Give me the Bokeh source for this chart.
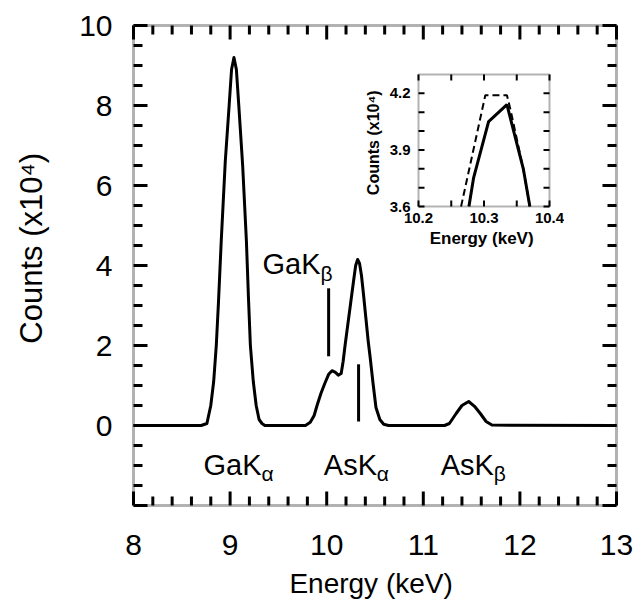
from bokeh.plotting import figure
from bokeh.layouts import column
from bokeh.models import Range1d, FixedTicker, BoxAnnotation
from bokeh.core.properties import value
from bokeh.embed import file_html
from bokeh.resources import INLINE

# ---- main spectrum ----
energy = [8.00, 8.70, 8.76, 8.80, 8.83, 8.857, 8.88, 8.908, 8.95, 8.99, 9.015, 9.04,
          9.065, 9.09, 9.13, 9.169, 9.19, 9.21, 9.24, 9.27, 9.30, 9.33, 9.36,
          9.78, 9.83, 9.87, 9.90, 9.94, 9.98, 10.02, 10.055, 10.09, 10.12, 10.15,
          10.17, 10.19, 10.22, 10.25, 10.28, 10.30, 10.32, 10.34, 10.36, 10.38,
          10.405, 10.43, 10.45, 10.48, 10.51, 10.55, 10.59, 10.64,
          11.22, 11.27, 11.34, 11.40, 11.47, 11.53, 11.59, 11.65, 11.71, 13.00]
counts = [0, 0, 0.05, 0.5, 1.1, 2.0, 3.1, 4.6, 6.6, 8.0, 8.9, 9.2,
          8.9, 8.0, 6.5, 4.6, 3.2, 2.0, 1.1, 0.5, 0.15, 0.05, 0,
          0, 0.08, 0.25, 0.5, 0.8, 1.05, 1.28, 1.37, 1.33, 1.26, 1.3,
          1.6, 2.0, 2.55, 3.1, 3.65, 4.0, 4.15, 4.05, 3.75, 3.3,
          2.7, 2.1, 1.7, 1.05, 0.45, 0.15, 0.03, 0,
          0, 0.05, 0.3, 0.5, 0.6, 0.48, 0.3, 0.1, 0.01, 0]

# line markers
marker_x = [10.02, 10.33]
marker_y0 = [1.73, 0.1]
marker_y1 = [3.43, 1.53]

# peak labels
peak_names = ["GaK", "AsK", "AsK", "GaK"]
peak_subs = ["α", "α", "β", "β"]
label_x = [8.725, 9.97, 11.18, 9.335]
label_y = [-0.98, -0.98, -0.98, 4.03]
sub_shift = [58, 53, 53, 58]

# main axes
x_lim = (8.0, 13.0)
y_lim = (-2.0, 10.0)
x_major = [8.0, 9.0, 10.0, 11.0, 12.0, 13.0]
x_minor = [8.2, 8.4, 8.6, 8.8, 9.2, 9.4, 9.6, 9.8, 10.2, 10.4, 10.6, 10.8,
           11.2, 11.4, 11.6, 11.8, 12.2, 12.4, 12.6, 12.8]
y_major = [-2.0, 0.0, 2.0, 4.0, 6.0, 8.0, 10.0]
y_labels = [0, 2, 4, 6, 8, 10]
y_minor = [-1.5, -1, -0.5, 0.5, 1, 1.5, 2.5, 3, 3.5, 4.5, 5, 5.5, 6.5, 7, 7.5,
           8.5, 9, 9.5]

# ---- inset (zoom of AsK-alpha peak) ----
inset_solid_x = [10.277, 10.284, 10.307, 10.335, 10.36, 10.37]
inset_solid_y = [3.6, 3.75, 4.05, 4.14, 3.8, 3.6]
inset_dash_x = [10.265, 10.302, 10.335, 10.34, 10.36, 10.37]
inset_dash_y = [3.6, 4.19, 4.19, 4.12, 3.8, 3.6]
inset_x_lim = (10.2, 10.4)
inset_y_lim = (3.6, 4.3)
inset_x_ticks = [10.2, 10.25, 10.3, 10.35, 10.4]
inset_x_labels = [10.2, 10.3, 10.4]
inset_y_ticks = [3.6, 3.7, 3.8, 3.9, 4.0, 4.1, 4.2]
inset_y_labels = [3.6, 3.9, 4.2]

FONT = "Liberation Sans"
NBSP = "\u00a0"


def style_axis(ax, lab_size, title_size, bold):
    ax.major_tick_in = 0
    ax.major_tick_out = 0
    ax.minor_tick_in = 0
    ax.minor_tick_out = 0
    ax.axis_line_color = None
    ax.major_label_text_font = FONT
    ax.major_label_text_font_size = lab_size
    ax.major_label_text_font_style = "bold" if bold else "normal"
    ax.major_label_text_color = "black"
    ax.axis_label_text_font = FONT
    ax.axis_label_text_font_size = title_size
    ax.axis_label_text_font_style = "bold" if bold else "normal"
    ax.axis_label_text_color = "black"


def padded(lim, box_px, pad_px):
    u = (lim[1] - lim[0]) / box_px
    return Range1d(lim[0] - pad_px * u, lim[1] + pad_px * u)


def boxed_frame(fig, xlim, ylim, box_w, box_h, ticks_spec, width):
    """Box drawn inside the plot area, with inward ticks on all four sides."""
    ux = (xlim[1] - xlim[0]) / box_w
    uy = (ylim[1] - ylim[0]) / box_h
    for xt, yt, L in ticks_spec:
        if xt:
            n = len(xt)
            fig.segment(x0=xt, x1=xt, y0=[ylim[0]] * n, y1=[ylim[0] + L * uy] * n,
                        line_color="black", line_width=width)
            fig.segment(x0=xt, x1=xt, y0=[ylim[1]] * n, y1=[ylim[1] - L * uy] * n,
                        line_color="black", line_width=width)
        if yt:
            n = len(yt)
            fig.segment(y0=yt, y1=yt, x0=[xlim[0]] * n, x1=[xlim[0] + L * ux] * n,
                        line_color="black", line_width=width)
            fig.segment(y0=yt, y1=yt, x0=[xlim[1]] * n, x1=[xlim[1] - L * ux] * n,
                        line_color="black", line_width=width)
    fig.add_layout(BoxAnnotation(left=xlim[0], right=xlim[1], bottom=ylim[0],
                                 top=ylim[1], fill_color=None, line_color="black",
                                 line_width=width))


BW, BH, PAD = 483, 480, 20
p = figure(frame_width=BW + 2 * PAD, frame_height=BH + 2 * PAD,
           x_range=padded(x_lim, BW, PAD), y_range=padded(y_lim, BH, PAD),
           output_backend="svg", toolbar_location=None,
           min_border_left=133 - PAD, min_border_right=25 - PAD,
           min_border_top=25 - PAD, min_border_bottom=102 - PAD,
           x_axis_label="Energy  (keV)",
           y_axis_label=NBSP * 5 + "Counts  (x10⁴)")
p.grid.visible = False
p.outline_line_color = None
for ax in p.axis:
    style_axis(ax, "30px", "28px", False)
p.xaxis.ticker = FixedTicker(ticks=x_major)
p.yaxis.ticker = FixedTicker(ticks=y_labels)
p.xaxis.major_label_standoff = 29 - PAD
p.xaxis.axis_label_standoff = 10
p.yaxis.major_label_standoff = 21 - PAD
p.yaxis.axis_label_standoff = 27
p.yaxis.axis_label_text_font_size = "31px"

p.line(energy, counts, line_color="black", line_width=3, line_join="round")
p.segment(x0=marker_x, y0=marker_y0, x1=marker_x, y1=marker_y1,
          line_color="black", line_width=3)
p.text(x=label_x, y=label_y, text=peak_names, text_font=value(FONT),
       text_font_size="29px", text_baseline="alphabetic", text_align="left",
       text_color="black")
p.text(x=label_x, y=label_y, text=peak_subs, x_offset=sub_shift, y_offset=9,
       text_font=value(FONT), text_font_size="21px",
       text_baseline="alphabetic", text_align="left", text_color="black")
boxed_frame(p, x_lim, y_lim, BW, BH,
            [(x_major, y_major, 14), (x_minor, y_minor, 9)], 3)

IW, IH, IPAD = 131, 132, 10
inset = figure(frame_width=IW + 2 * IPAD, frame_height=IH + 2 * IPAD,
               x_range=padded(inset_x_lim, IW, IPAD),
               y_range=padded(inset_y_lim, IH, IPAD),
               output_backend="svg", toolbar_location=None,
               min_border_left=133 - PAD, min_border_right=25 - PAD,
               min_border_top=6, min_border_bottom=50,
               x_axis_label="Energy  (keV)", y_axis_label="Counts  (x10⁴)",
               background_fill_color=None, border_fill_color=None,
               styles={"position": "absolute",
                       "left": f"{418 - IPAD - (133 - PAD)}px",
                       "top": f"{74 - IPAD - 6}px"})
inset.grid.visible = False
inset.outline_line_color = None
for ax in inset.axis:
    style_axis(ax, "15px", "17px", True)
inset.xaxis.ticker = FixedTicker(ticks=inset_x_labels)
inset.yaxis.ticker = FixedTicker(ticks=inset_y_labels)
inset.xaxis.major_label_standoff = 6 - IPAD
inset.xaxis.axis_label_standoff = 3
inset.yaxis.major_label_standoff = 8 - IPAD
inset.yaxis.axis_label_standoff = 5
inset.yaxis.axis_label_text_font_size = "16px"

inset.line(inset_solid_x, inset_solid_y, line_color="black", line_width=3)
inset.line(inset_dash_x, inset_dash_y, line_color="black", line_width=2,
           line_dash="7 4")
boxed_frame(inset, inset_x_lim, inset_y_lim, IW, IH,
            [(inset_x_ticks, inset_y_ticks, 6)], 2)

layout = column(p, inset)
open("out.html", "w").write(file_html(layout, INLINE))
